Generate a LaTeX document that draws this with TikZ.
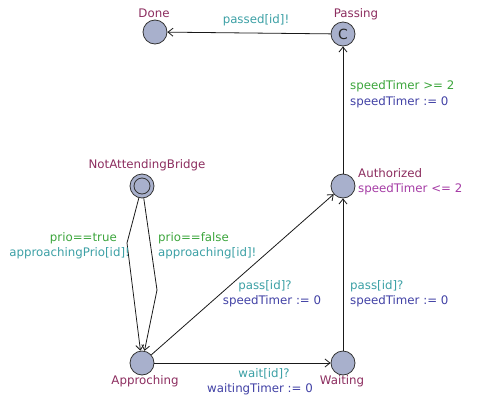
\documentclass[tikz,border=0pt]{standalone}
\usepackage{fontspec}
\setmainfont{DejaVu Sans}
\usetikzlibrary{arrows.meta}
\definecolor{locfill}{RGB}{168,176,204}
\definecolor{locname}{RGB}{140,45,95}
\definecolor{invcol}{RGB}{165,60,165}
\definecolor{guardcol}{RGB}{60,165,60}
\definecolor{synccol}{RGB}{60,160,165}
\definecolor{assigncol}{RGB}{65,65,165}
\begin{document}
\begin{tikzpicture}[x=1pt,y=-1pt,
  every node/.style={font=\fontsize{11.8}{15.5}\selectfont, inner sep=0pt},
  loc/.style={circle, draw=black!80, fill=locfill, minimum size=24pt, line width=0.8pt},
  nm/.style={text=locname},
  inv/.style={text=invcol},
  grd/.style={text=guardcol},
  syn/.style={text=synccol},
  asg/.style={text=assigncol},
  edge/.style={draw=black!90, line width=0.8pt, -{Straight Barb[length=5pt,width=8pt]}}
]
\useasboundingbox (0,0) rectangle (477,408);

\node[loc] (done) at (155,32) {};
\node[loc] (passing) at (343,34) {\fontsize{14}{14}\selectfont\color{black!85}C};
\node[loc] (nab) at (142,186) {};
\node[circle, draw=black!80, minimum size=16pt, line width=0.8pt] (nabin) at (142,186) {};
\node[loc] (auth) at (343,186) {};
\node[loc] (appr) at (142,363) {};
\node[loc] (wait) at (343,363) {};

% names
\node[nm] (ldone) at (154,13) {Done};
\node[nm] (lpass) at (356,14) {Passing};
\node[nm] (lnab) at (147,165) {NotAttendingBridge};
\node[nm, anchor=west] (lauth) at (358,173) {Authorized};
\node[inv, anchor=west] (linv) at (358,189) {speedTimer <= 2};
\node[nm] (lappr) at (145,381) {Approching};
\node[nm] (lwait) at (342,381) {Waiting};

% edges
\draw[edge] (passing) -- (done);
\node[syn] (e1s) at (256,20) {passed[id]!};

\draw[edge] (auth) -- (passing);
\node[grd, anchor=west] (e2g) at (350,86) {speedTimer >= 2};
\node[asg, anchor=west] (e2a) at (350,102) {speedTimer := 0};

\coordinate (nl) at (127,243);
\coordinate (nr) at (157,290);
\draw[edge] (nab) -- (nl) -- (appr);
\draw[edge] (nab) -- (nr) -- (appr);
\node[grd, anchor=east] (e3g) at (117,238) {prio==true};
\node[syn, anchor=east] (e3s) at (130,253) {approachingPrio[id]!};
\node[grd, anchor=west] (e4g) at (158,238) {prio==false};
\node[syn, anchor=west] (e4s) at (158,253) {approaching[id]!};

\draw[edge] (appr) -- (auth);
\node[syn] (e5s) at (265,286) {pass[id]?};
\node[asg] (e5a) at (272,301) {speedTimer := 0};

\draw[edge] (wait) -- (auth);
\node[syn, anchor=west] (e6s) at (350,286) {pass[id]?};
\node[asg, anchor=west] (e6a) at (350,301) {speedTimer := 0};

\draw[edge] (appr) -- (wait);
\node[syn] (e7s) at (264,374) {wait[id]?};
\node[asg] (e7a) at (260,389) {waitingTimer := 0};
\end{tikzpicture}
\end{document}
